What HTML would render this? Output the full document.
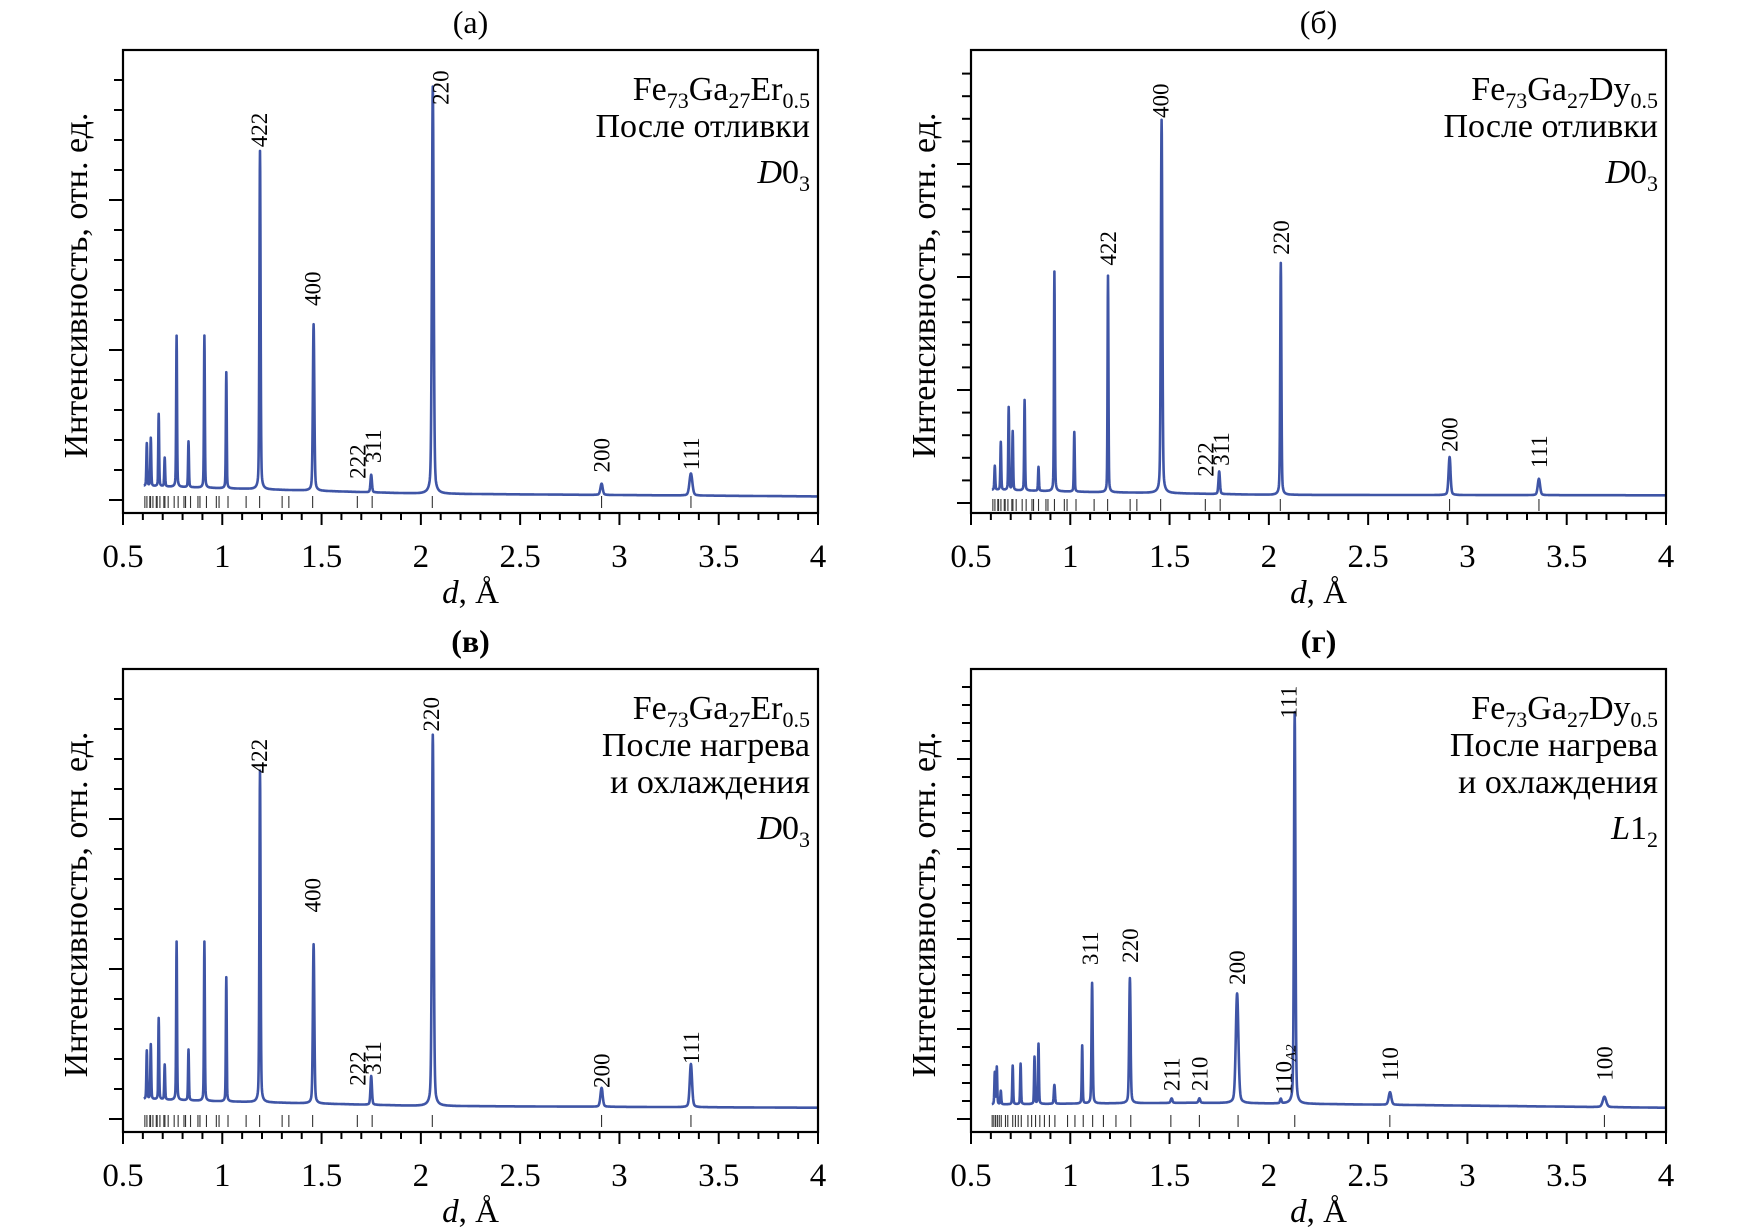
<!DOCTYPE html>
<html><head><meta charset="utf-8">
<style>
html,body{margin:0;padding:0;background:#fff;}
svg{display:block;font-family:"Liberation Serif","DejaVu Serif",serif;}
</style></head>
<body>
<svg id="fig" width="1744" height="1227" viewBox="0 0 1744 1227" xmlns="http://www.w3.org/2000/svg"></svg>
<script>
// ---------- data ----------
const xTickLabels = ["0.5","1","1.5","2","2.5","3","3.5","4"];
const xTickValues = [0.5,1,1.5,2,2.5,3,3.5,4];

// Panel (а)
const aPeakD = [0.62,0.64,0.68,0.71,0.77,0.83,0.91,1.02,1.19,1.46,1.75,2.06,2.91,3.36];
const aPeakI = [9.5,10.7,16.1,6.4,33.6,10.2,33.8,25.8,75.2,37,3.9,90.5,2.5,4.9];
const aPeakW = [0.003,0.003,0.003,0.003,0.003,0.003,0.003,0.003,0.004,0.005,0.005,0.006,0.008,0.01];
const aBgD = [0.6,1.0,2.0,4.0];
const aBgI = [3.1,2.6,1.4,0.8];
const aLabels = ["422","400","222","311","220","200","111"];
const aLabelD = [1.185,1.455,1.68,1.76,2.10,2.91,3.36];
const aLabelI = [78.4,43.1,4.7,8.2,87.8,6.1,6.6];

// Panel (б)
const bPeakD = [0.62,0.65,0.69,0.71,0.77,0.84,0.92,1.02,1.19,1.46,1.75,2.06,2.91,3.36];
const bPeakI = [5.3,10.6,18.3,13,20,5.3,48.5,13.2,47.8,82.4,5,51.2,8.4,3.6];
const bPeakW = [0.003,0.003,0.003,0.003,0.003,0.003,0.003,0.003,0.003,0.005,0.005,0.004,0.007,0.008];
const bBgD = [0.6,1.0,2.0,4.0];
const bBgI = [2.9,2.5,1.8,1.7];
const bLabels = ["422","400","222","311","220","200","111"];
const bLabelD = [1.19,1.455,1.68,1.76,2.06,2.91,3.36];
const bLabelI = [52.4,85,5.8,8.2,54.8,11.3,7.7];

// Panel (в)
const cPeakD = [0.62,0.64,0.68,0.71,0.77,0.83,0.91,1.02,1.19,1.46,1.75,2.06,2.91,3.36];
const cPeakI = [10.8,12.2,18.1,7.8,35.2,11.3,35.4,27.6,73.7,35.4,6.4,82.5,4.2,9.6];
const cPeakW = [0.003,0.003,0.003,0.003,0.003,0.003,0.003,0.003,0.004,0.005,0.005,0.006,0.008,0.008];
const cBgD = [0.6,1.0,2.0,4.0];
const cBgI = [4.4,3.9,2.9,2.5];
const cLabels = ["422","400","222","311","220","200","111"];
const cLabelD = [1.185,1.455,1.68,1.76,2.05,2.91,3.36];
const cLabelI = [76.8,45.9,7.4,9.8,86.1,6.9,12.2];

// Panel (г)
const dPeakD = [0.62,0.63,0.65,0.71,0.75,0.82,0.84,0.92,1.06,1.11,1.30,1.51,1.65,1.84,2.06,2.13,2.61,3.69];
const dPeakI = [7.1,8.3,3.0,8.6,9.0,10.5,13.4,4.2,12.9,26.8,27.8,1.0,1.0,24.4,1.0,87,2.8,2.3];
const dPeakW = [0.003,0.003,0.003,0.003,0.003,0.003,0.003,0.004,0.003,0.004,0.005,0.006,0.006,0.009,0.005,0.005,0.009,0.012];
const dBgD = [0.6,1.0,1.6,2.1,4.0];
const dBgI = [3.2,3.4,3.6,3.4,2.5];
const dLabels = ["311","220","211","210","200","110","111","110","100"];
const dLabelD = [1.10,1.30,1.51,1.65,1.84,2.075,2.10,2.61,3.69];
const dLabelI = [34.2,34.7,6.2,6.2,29.8,5.4,89,8.5,8.5];

// reflection positions
const d03A = 5.82;
const d03N = [3,4,8,11,12,16,19,20,24,27,32,35,36,40,43,44,48,51,52,56,59,64,67,68,72,75,76,80,83,84,88,91];
const l12A = 3.69;
const l12N = [1,2,3,4,5,6,8,9,10,11,12,13,14,16,17,18,19,20,21,22,24,25,26,27,29,30,32,33,34,35,36,37];

// ---------- drawing ----------
const NS = "http://www.w3.org/2000/svg";
const svg = document.getElementById("fig");
function mk(tag, attrs, parent){
  const e = document.createElementNS(NS, tag);
  for (const k in attrs) e.setAttribute(k, attrs[k]);
  (parent||svg).appendChild(e);
  return e;
}
function interp(xs, ys, x){
  if (x <= xs[0]) return ys[0];
  for (let i=1;i<xs.length;i++){ if (x <= xs[i]){ const t=(x-xs[i-1])/(xs[i]-xs[i-1]); return ys[i-1]+t*(ys[i]-ys[i-1]); } }
  return ys[ys.length-1];
}

function drawPanel(p){
  const g = mk("g", {});
  
  
  const xS = d => p.left + (d-0.5)/3.5*(p.right-p.left);
  const yS = v => p.base - v/100*(p.base - p.top);

  const t = mk("text", {x:(p.left+p.right)/2, y:p.top-17, "text-anchor":"middle", "font-size":32, "font-weight":p.bold?"bold":"normal"}, g);
  t.textContent = p.title;
  
  

  let dstr = "";
  for (let d=0.605; d<=4.0001; d+=0.001){
    let v = interp(p.bgD, p.bgI, d);
    for (let i=0;i<p.pd.length;i++){ const z=(d-p.pd[i])/p.pw[i]; v += p.pi[i]*(0.75*Math.exp(-z*z) + 0.25/(1+z*z)); }
    dstr += (dstr?"L":"M") + xS(d).toFixed(1) + "," + yS(v).toFixed(1);
  }
  const c = mk("path", {d:dstr, fill:"none", stroke:"#3f55a6", "stroke-width":2.6, "stroke-linejoin":"round"}, g);
  
  

  const sg = mk("g", {stroke:"#333", "stroke-width":1.1}, g);
  
  
  for (const n of p.sN){
    const d = p.sA/Math.sqrt(n);
    if (d < 0.6 || d > 4) continue;
    const l = mk("line", {x1:xS(d), x2:xS(d), y1:p.base-4, y2:p.base+8}, sg);
    
    
  }

  const f = mk("rect", {x:p.left, y:p.top, width:p.right-p.left, height:p.bottom-p.top, fill:"none", stroke:"#000", "stroke-width":2.2}, g);
  
  

  let k=0;
  for (let y=p.base; y>p.top+2; y-=p.yStep, k++){
    const len = (k%5===0)?14:9;
    const tk = mk("line", {x1:p.left-len, x2:p.left, y1:y, y2:y, stroke:"#000", "stroke-width":2}, g);
    
    
  }
  for (let i=5;i<=40;i++){
    const d=i/10, major=(i%5===0);
    const tk = mk("line", {x1:xS(d), x2:xS(d), y1:p.bottom, y2:p.bottom+(major?12:7), stroke:"#000", "stroke-width":2}, g);
    
    
  }
  for (let i=0;i<xTickValues.length;i++){
    const tl = mk("text", {x:xS(xTickValues[i]), y:p.bottom+54, "text-anchor":"middle", "font-size":33}, g);
    tl.textContent = xTickLabels[i];
    
    
  }
  const xt = mk("text", {x:(p.left+p.right)/2, y:p.bottom+90, "text-anchor":"middle", "font-size":33}, g);
  xt.innerHTML = '<tspan font-style="italic">d</tspan>, Å';
  
  
  const cy = (p.top+p.bottom)/2 + 4;
  const yx = p.left-36;
  const yt = mk("text", {x:yx, y:cy, "text-anchor":"middle", "font-size":34, transform:`rotate(-90 ${yx} ${cy})`}, g);
  yt.textContent = "Интенсивность, отн. ед.";
  
  

  for (let i=0;i<p.lab.length;i++){
    const x = xS(p.labD[i]) + 8, y = yS(p.labI[i]);
    const pl = mk("text", {x:x, y:y, "font-size":23, transform:`rotate(-90 ${x} ${y})`}, g);
    if (p.lab[i]==="110" && p.sub && i===p.subIdx){
      pl.innerHTML = '110<tspan font-size="15" font-style="italic" dy="4">A2</tspan>';
    } else pl.textContent = p.lab[i];
    
    
  }

  const ax = p.right - 8;
  const an = mk("text", {x:ax, y:p.top+50, "text-anchor":"end", "font-size":34}, g);
  an.innerHTML = `Fe<tspan font-size="22" dy="8">73</tspan><tspan dy="-8">Ga</tspan><tspan font-size="22" dy="8">27</tspan><tspan dy="-8">${p.el}</tspan><tspan font-size="22" dy="8">0.5</tspan>`;
  
  
  let yy = p.top+50;
  for (const line of p.notes){
    yy += 37;
    const nt = mk("text", {x:ax, y:yy, "text-anchor":"end", "font-size":34}, g);
    nt.textContent = line;
    
    
  }
  yy += 46;
  const ph = mk("text", {x:ax, y:yy, "text-anchor":"end", "font-size":34}, g);
  ph.innerHTML = `<tspan font-style="italic">${p.ph[0]}</tspan>${p.ph[1]}<tspan font-size="22" dy="8">${p.ph[2]}</tspan>`;
  
  
}

drawPanel({name:"panel-a", title:"(а)", left:123, right:818, top:50, bottom:513, base:500, yStep:30,
  pd:aPeakD, pi:aPeakI, pw:aPeakW, bgD:aBgD, bgI:aBgI, lab:aLabels, labD:aLabelD, labI:aLabelI,
  sN:d03N, sA:d03A, el:"Er", notes:["После отливки"], ph:["D","0","3"]});
drawPanel({name:"panel-b", title:"(б)", left:971, right:1666, top:50, bottom:513, base:503, yStep:22.6,
  pd:bPeakD, pi:bPeakI, pw:bPeakW, bgD:bBgD, bgI:bBgI, lab:bLabels, labD:bLabelD, labI:bLabelI,
  sN:d03N, sA:d03A, el:"Dy", notes:["После отливки"], ph:["D","0","3"]});
drawPanel({name:"panel-v", title:"(в)", bold:true, left:123, right:818, top:669, bottom:1132, base:1119, yStep:30,
  pd:cPeakD, pi:cPeakI, pw:cPeakW, bgD:cBgD, bgI:cBgI, lab:cLabels, labD:cLabelD, labI:cLabelI,
  sN:d03N, sA:d03A, el:"Er", notes:["После нагрева","и охлаждения"], ph:["D","0","3"]});
drawPanel({name:"panel-g", title:"(г)", bold:true, left:971, right:1666, top:669, bottom:1132, base:1119, yStep:18,
  pd:dPeakD, pi:dPeakI, pw:dPeakW, bgD:dBgD, bgI:dBgI, lab:dLabels, labD:dLabelD, labI:dLabelI, sub:true, subIdx:5,
  sN:l12N, sA:l12A, el:"Dy", notes:["После нагрева","и охлаждения"], ph:["L","1","2"]});
</script>
</body></html>
